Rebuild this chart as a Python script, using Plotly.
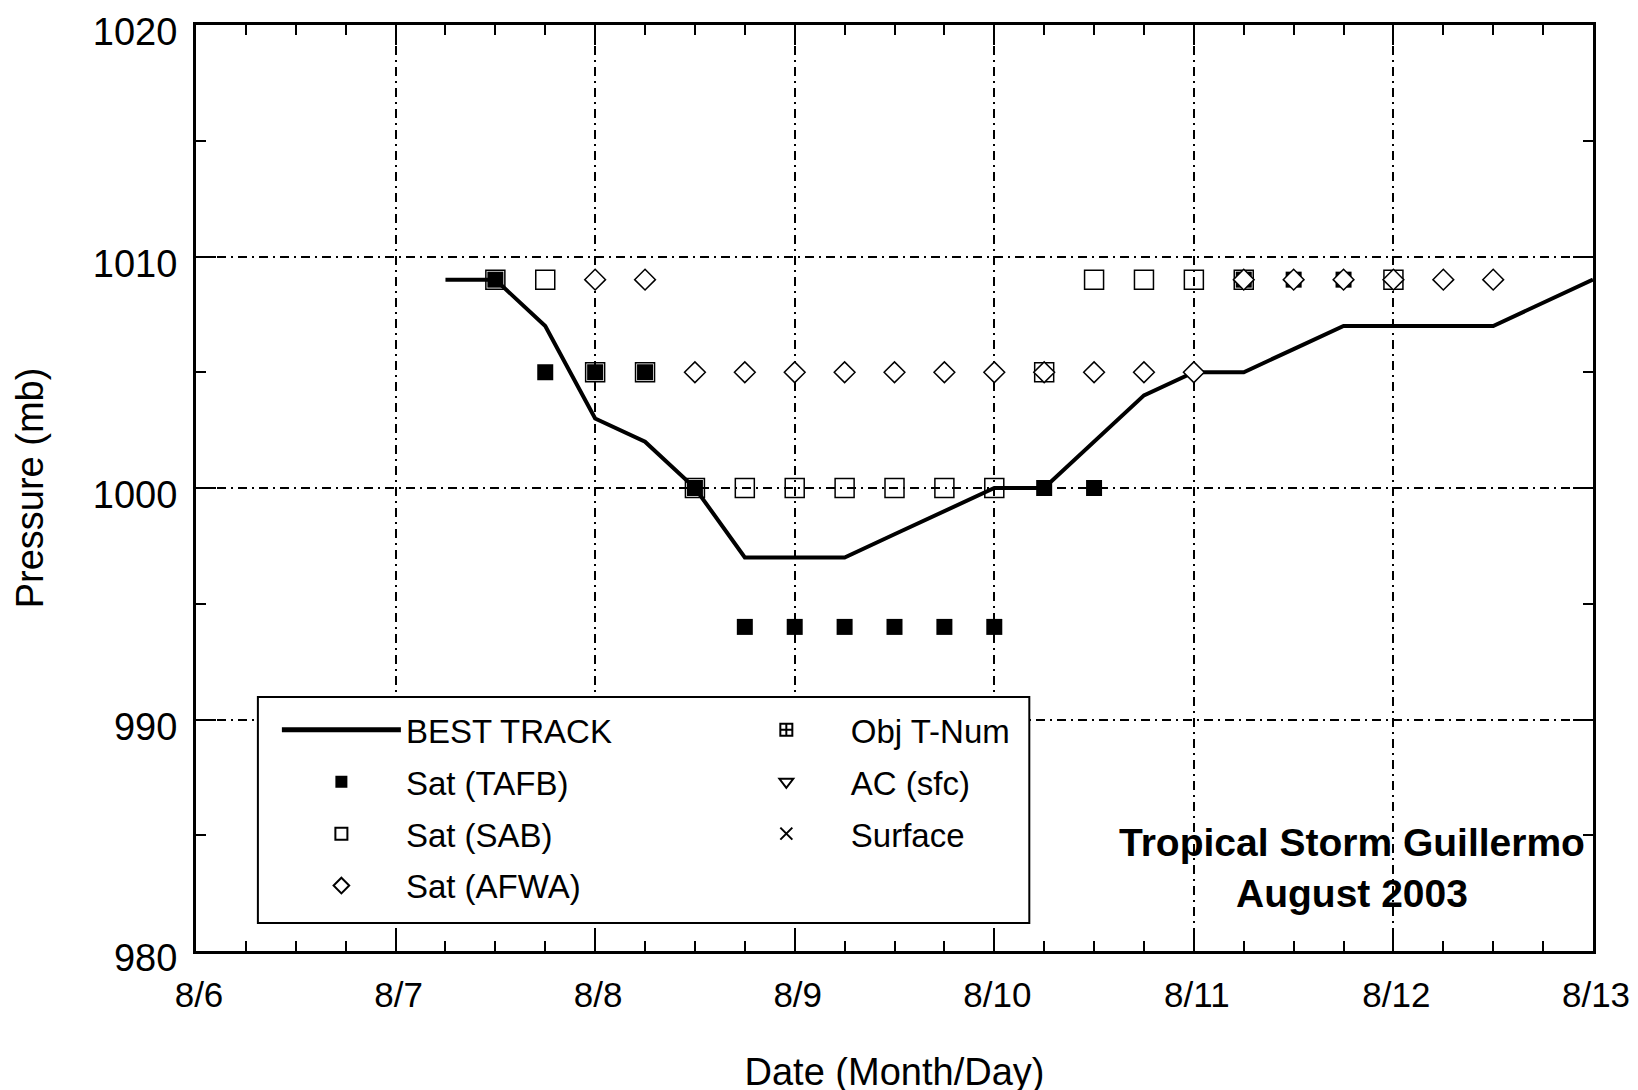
import plotly.graph_objects as go

# ---- data (day of August, fractional) ----
tick_vals = [6, 7, 8, 9, 10, 11, 12, 13]
tick_text = ["8/6", "8/7", "8/8", "8/9", "8/10", "8/11", "8/12", "8/13"]
y_ticks = [980, 990, 1000, 1010, 1020]

bt_x = [7.25, 7.5, 7.75, 8.0, 8.25, 8.5, 8.75, 9.0, 9.25, 9.5, 9.75, 10.0,
        10.25, 10.5, 10.75, 11.0, 11.25, 11.5, 11.75, 12.0, 12.25, 12.5, 12.75, 13.0]
bt_p = [1009, 1009, 1007, 1003, 1002, 1000, 997, 997, 997, 998, 999, 1000,
        1000, 1002, 1004, 1005, 1005, 1006, 1007, 1007, 1007, 1007, 1008, 1009]

tafb_x = [7.5, 7.75, 8.0, 8.25, 8.5, 8.75, 9.0, 9.25, 9.5, 9.75, 10.0, 10.25, 10.5, 11.25, 11.5, 11.75]
tafb_p = [1009, 1005, 1005, 1005, 1000, 994, 994, 994, 994, 994, 994, 1000, 1000, 1009, 1009, 1009]

sab_x = [7.5, 7.75, 8.0, 8.25, 8.5, 8.75, 9.0, 9.25, 9.5, 9.75, 10.0, 10.25, 10.5, 10.75, 11.0, 11.25, 12.0]
sab_p = [1009, 1009, 1005, 1005, 1000, 1000, 1000, 1000, 1000, 1000, 1000, 1005, 1009, 1009, 1009, 1009, 1009]

afwa_x = [8.0, 8.25, 8.5, 8.75, 9.0, 9.25, 9.5, 9.75, 10.0, 10.25, 10.5, 10.75, 11.0,
          11.25, 11.5, 11.75, 12.0, 12.25, 12.5]
afwa_p = [1009, 1009, 1005, 1005, 1005, 1005, 1005, 1005, 1005, 1005, 1005, 1005, 1005,
          1009, 1009, 1009, 1009, 1009, 1009]

objt_x, objt_p = [], []
ac_x, ac_p = [], []
sfc_x, sfc_p = [], []

FONT = "Liberation Sans"
GRID_DASH = "9px,5px,2px,5px"

fig = go.Figure()

fig.add_trace(go.Scatter(x=bt_x, y=bt_p, mode="lines", name="BEST TRACK",
                         line=dict(color="black", width=4), legend="legend",
                         legendgroup="bt"))
fig.add_trace(go.Scatter(x=tafb_x, y=tafb_p, mode="markers", name="Sat (TAFB)",
                         marker=dict(symbol="square", size=16, color="black"),
                         legend="legend", legendgroup="tafb"))
fig.add_trace(go.Scatter(x=sab_x, y=sab_p, mode="markers", name="Sat (SAB)",
                         marker=dict(symbol="square-open", size=19, color="black",
                                     line=dict(width=1.5)),
                         legend="legend", legendgroup="sab"))
fig.add_trace(go.Scatter(x=afwa_x, y=afwa_p, mode="markers", name="Sat (AFWA)",
                         marker=dict(symbol="diamond", size=16, color="white",
                                     line=dict(color="black", width=1.5)),
                         legend="legend", legendgroup="afwa"))
fig.add_trace(go.Scatter(x=objt_x or [None], y=objt_p or [None], mode="markers", name="Obj T-Num",
                         marker=dict(symbol="square-cross-open", size=16, color="black",
                                     line=dict(width=1.5)),
                         legend="legend2", legendgroup="objt"))
fig.add_trace(go.Scatter(x=ac_x or [None], y=ac_p or [None], mode="markers", name="AC (sfc)",
                         marker=dict(symbol="triangle-down-open", size=16, color="black",
                                     line=dict(width=1.5)),
                         legend="legend2", legendgroup="ac"))
fig.add_trace(go.Scatter(x=sfc_x or [None], y=sfc_p or [None], mode="markers", name="Surface",
                         marker=dict(symbol="x-thin-open", size=16, color="black",
                                     line=dict(width=1.5, color="black")),
                         legend="legend2", legendgroup="sfc"))

axis_common = dict(
    showline=True, linecolor="black", linewidth=3, mirror="ticks",
    ticks="inside", ticklen=20, tickwidth=2, tickcolor="black",
    showgrid=True, gridcolor="black", gridwidth=1.5, griddash=GRID_DASH,
    zeroline=False, ticklabeloverflow="allow",
)

fig.update_xaxes(range=[6, 13], tickmode="array", tickvals=tick_vals, ticktext=tick_text,
                 minor=dict(dtick=0.25, ticks="inside", ticklen=10, tickwidth=2,
                            tickcolor="black", showgrid=False),
                 ticklabelstandoff=11, ticklabelshift=3,
                 tickfont=dict(family=FONT, size=35, color="black"),
                 title=dict(text="Date (Month/Day)", font=dict(family=FONT, size=38, color="black"),
                            standoff=46),
                 **axis_common)
fig.update_yaxes(range=[980, 1020], tickmode="array", tickvals=y_ticks,
                 minor=dict(dtick=5, ticks="inside", ticklen=10, tickwidth=2,
                            tickcolor="black", showgrid=False),
                 ticklabelstandoff=8, ticklabelshift=7,
                 tickfont=dict(family=FONT, size=38, color="black"),
                 title=dict(text="Pressure (mb)", font=dict(family=FONT, size=38, color="black"),
                            standoff=38),
                 **axis_common)

legend_common = dict(
    xanchor="left", yanchor="top", bgcolor="rgba(0,0,0,0)", borderwidth=0,
    font=dict(family=FONT, size=33, color="black"),
    itemwidth=119, itemsizing="constant", tracegroupgap=6,
    orientation="v",
)

fig.update_layout(
    width=1638, height=1090,
    margin=dict(l=188, r=53, t=17, b=147, autoexpand=False),
    paper_bgcolor="white", plot_bgcolor="white",
    showlegend=True,
    legend=dict(x=0.0579, y=0.269, **legend_common),
    legend2=dict(x=0.3764, y=0.269, **legend_common),
    shapes=[dict(type="rect", xref="paper", yref="paper",
                 x0=0.0443, x1=0.5965, y0=0.0302, y1=0.2743,
                 fillcolor="white", line=dict(color="black", width=2), layer="above")],
    annotations=[dict(xref="paper", yref="paper", x=0.8274, y=0.0896,
                      text="<b>Tropical Storm Guillermo<br>August 2003</b>",
                      showarrow=False, xanchor="center", yanchor="middle",
                      font=dict(family=FONT, size=39, color="black"), align="center")],
)

fig.write_html("out.html")
